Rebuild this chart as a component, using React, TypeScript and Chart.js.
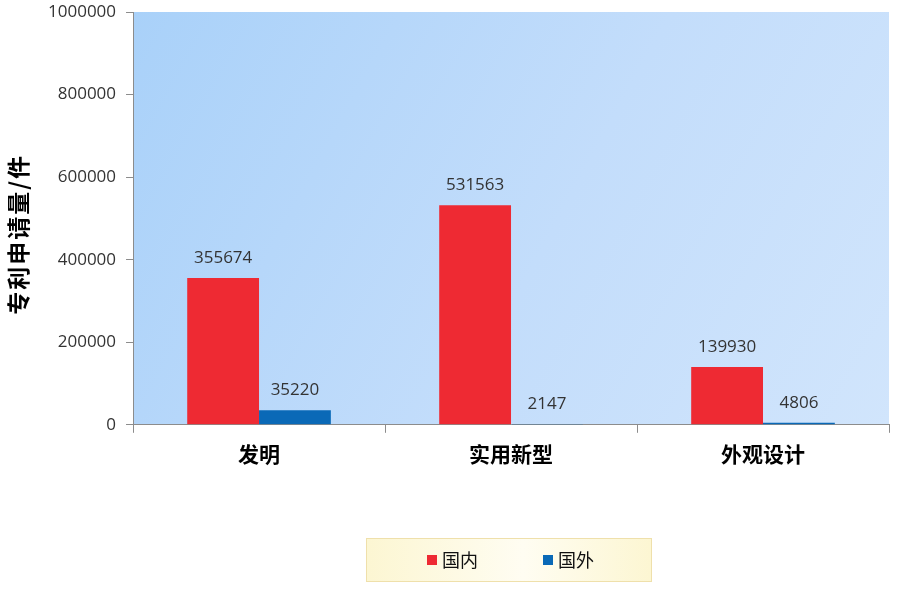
import React, { useEffect, useRef } from "react";
import { Chart, registerables, Plugin } from "chart.js";

Chart.register(...registerables);

const categories = ["发明", "实用新型", "外观设计"];
const domestic = [355674, 531563, 139930];
const foreign = [35220, 2147, 4806];
const seriesNames = ["国内", "国外"];
const seriesColors = ["#ee2a33", "#0a69b7"];
const yTitle = "专利申请量/件";

const plotBackground: Plugin<"bar"> = {
  id: "plotBackground",
  beforeDraw(chart) {
    const { ctx, chartArea } = chart;
    const { left, top, right, bottom } = chartArea;
    const g = ctx.createLinearGradient(left, top, right, bottom);
    g.addColorStop(0, "#a9d1f9");
    g.addColorStop(0.55, "#c3ddfb");
    g.addColorStop(1, "#d1e5fc");
    ctx.save();
    ctx.fillStyle = g;
    ctx.fillRect(left, top, right - left, bottom - top);
    ctx.restore();
  },
};

const valueLabels: Plugin<"bar"> = {
  id: "valueLabels",
  afterDatasetsDraw(chart) {
    const { ctx } = chart;
    ctx.save();
    ctx.font = "17px 'Open Sans', sans-serif";
    ctx.fillStyle = "#333333";
    ctx.textAlign = "center";
    ctx.textBaseline = "middle";
    chart.data.datasets.forEach((ds, i) => {
      const meta = chart.getDatasetMeta(i);
      meta.data.forEach((el: any, j) => {
        ctx.fillText(String(ds.data[j]), el.x, el.y - 20);
      });
    });
    ctx.restore();
  },
};

// vertical axis title, drawn by hand so it can sit a little below centre
const axisTitle: Plugin<"bar"> = {
  id: "axisTitle",
  afterDraw(chart) {
    const { ctx, chartArea } = chart;
    ctx.save();
    ctx.translate(18, (chartArea.top + chartArea.bottom) / 2 + 16);
    ctx.rotate(-Math.PI / 2);
    ctx.font = "bold 23px 'Noto Sans CJK SC', sans-serif";
    ctx.fillStyle = "#000000";
    ctx.textAlign = "center";
    ctx.textBaseline = "middle";
    (ctx as any).letterSpacing = "2px";
    ctx.fillText(yTitle, 0, 0);
    ctx.restore();
  },
};

// legend box drawn under the plot, centred on the chart area
const boxLegend: Plugin<"bar"> = {
  id: "boxLegend",
  afterDraw(chart) {
    const { ctx, chartArea } = chart;
    const cx = (chartArea.left + chartArea.right) / 2;
    const w = 286;
    const h = 44;
    const x0 = Math.round(cx - w / 2) - 2;
    const y0 = 538;
    ctx.save();
    const g = ctx.createLinearGradient(x0, y0, x0 + w, y0);
    g.addColorStop(0, "#fcf6d2");
    g.addColorStop(0.55, "#fffdf2");
    g.addColorStop(1, "#fcf6d2");
    ctx.fillStyle = g;
    ctx.fillRect(x0, y0, w, h);
    ctx.strokeStyle = "#efe0ab";
    ctx.lineWidth = 1;
    ctx.strokeRect(x0 + 0.5, y0 + 0.5, w - 1, h - 1);
    ctx.font = "18px 'Noto Sans CJK SC', sans-serif";
    ctx.textBaseline = "middle";
    ctx.textAlign = "left";
    const yMid = y0 + h / 2;
    const starts = [x0 + 61, x0 + 177];
    chart.data.datasets.forEach((ds, i) => {
      ctx.fillStyle = String(ds.backgroundColor);
      ctx.fillRect(starts[i], yMid - 5, 10, 10);
      ctx.fillStyle = "#111111";
      ctx.fillText(String(ds.label), starts[i] + 15, yMid);
    });
    ctx.restore();
  },
};

const App: React.FC = () => {
  const canvasRef = useRef<HTMLCanvasElement | null>(null);

  useEffect(() => {
    document.body.style.margin = "0";
    const ctx = canvasRef.current?.getContext("2d");
    if (!ctx) return;
    const chart = new Chart(ctx, {
      type: "bar",
      data: {
        labels: categories,
        datasets: [
          {
            label: seriesNames[0],
            data: domestic,
            backgroundColor: seriesColors[0],
            borderWidth: 0,
          },
          {
            label: seriesNames[1],
            data: foreign,
            backgroundColor: seriesColors[1],
            borderWidth: 0,
          },
        ],
      },
      options: {
        animation: false,
        responsive: true,
        maintainAspectRatio: false,
        layout: { padding: { top: 0, right: 9, bottom: 113, left: 38 } },
        datasets: {
          bar: { categoryPercentage: 0.57, barPercentage: 1 },
        },
        plugins: {
          legend: { display: false },
          tooltip: { enabled: false },
        },
        scales: {
          x: {
            grid: {
              offset: true,
              drawOnChartArea: false,
              drawTicks: true,
              tickLength: 8,
              color: "#8c8c8c",
            },
            border: { color: "#8c8c8c", width: 1 },
            ticks: {
              padding: 9,
              color: "#000000",
              font: {
                family: "'Noto Sans CJK SC', sans-serif",
                size: 21,
                weight: "bold",
              },
            },
          },
          y: {
            min: 0,
            max: 1000000,
            afterFit: (scale: any) => {
              scale.paddingTop = 12;
            },
            grid: {
              drawOnChartArea: false,
              drawTicks: true,
              tickLength: 7,
              color: "#8c8c8c",
            },
            border: { color: "#8c8c8c", width: 1 },
            ticks: {
              stepSize: 200000,
              padding: 10,
              color: "#333333",
              font: { family: "'Open Sans', sans-serif", size: 17 },
              callback: (v) => String(v),
            },
          },
        },
      },
      plugins: [plotBackground, valueLabels, axisTitle, boxLegend],
    });
    return () => {
      chart.destroy();
    };
  }, []);

  return (
    <div style={{ width: "898px", height: "589px", position: "relative" }}>
      <canvas ref={canvasRef} />
    </div>
  );
};

export default App;
